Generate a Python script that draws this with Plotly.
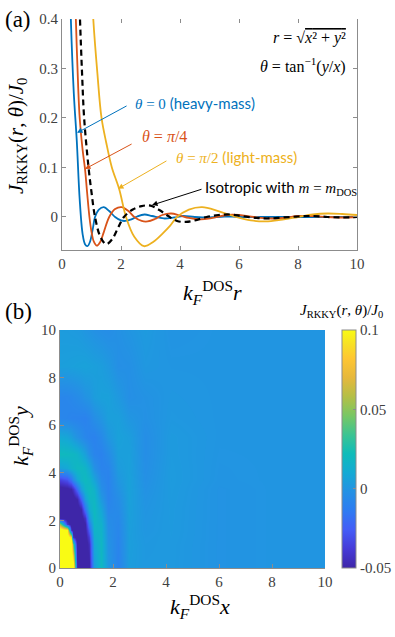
import plotly.graph_objects as go

# ---------------- Panel (a): J_RKKY(r, theta)/J0 vs kF r ----------------
r_heavy = [0.25, 0.3, 0.4, 0.5, 0.6, 0.7, 0.78, 0.86, 0.95, 1.05, 1.12, 1.25, 1.42, 1.6, 1.8, 2.0, 2.15,
           2.35, 2.55, 2.8, 3.05, 3.45, 3.8, 4.1, 4.5, 5.0, 5.5, 6.0, 7.0, 8.0, 9.0, 10.0]
J_heavy = [0.52, 0.40, 0.25, 0.155, 0.035, -0.035, -0.055, -0.059, -0.05, -0.022, 0.0, 0.015, 0.02, 0.012,
           0.0, -0.007, -0.008, -0.005, 0.001, 0.005, 0.002, -0.003, -0.001, 0.002, 0.0, -0.001, 0.001, 0.0,
           0.0, 0.0, 0.0, 0.0]

r_mid = [0.42, 0.47, 0.55, 0.6, 0.7, 0.78, 0.85, 0.93, 1.0, 1.08, 1.18, 1.3, 1.42, 1.6, 1.8, 2.02, 2.25,
         2.45, 2.7, 2.9, 3.15, 3.4, 3.7, 4.0, 4.3, 4.7, 5.1, 5.6, 6.0, 6.5, 7.0, 7.5, 8.0, 8.5, 9.0, 9.5, 10.0]
J_mid = [0.52, 0.40, 0.26, 0.20, 0.135, 0.097, 0.05, 0.0, -0.03, -0.05, -0.058, -0.05, -0.03, 0.0, 0.016,
         0.02, 0.012, 0.0, -0.008, -0.009, -0.004, 0.004, 0.007, 0.003, -0.002, -0.005, -0.002, 0.004, 0.004,
         0.0, -0.003, -0.002, 0.002, 0.002, 0.0, -0.001, 0.0]

r_light = [0.98, 1.06, 1.2, 1.34, 1.5, 1.69, 1.94, 2.17, 2.45, 2.78, 3.1, 3.4, 3.66, 3.9, 4.3, 4.75, 5.3,
           5.9, 6.4, 6.9, 7.4, 8.0, 8.5, 9.0, 9.5, 10.0]
J_light = [0.50, 0.40, 0.29, 0.20, 0.15, 0.10, 0.056, 0.0, -0.04, -0.059, -0.05, -0.034, -0.018, 0.0, 0.015,
           0.02, 0.012, 0.0, -0.007, -0.009, -0.006, 0.0, 0.005, 0.007, 0.006, 0.004]

r_iso = [0.55, 0.61, 0.68, 0.75, 0.9, 1.0, 1.12, 1.3, 1.5, 1.7, 1.9, 2.1, 2.4, 2.7, 3.0, 3.3, 3.6, 3.9,
         4.2, 4.5, 4.9, 5.3, 5.7, 6.1, 6.6, 7.0, 7.5, 8.0, 8.5, 9.0, 9.5, 10.0]
J_iso = [0.52, 0.40, 0.29, 0.20, 0.10, 0.05, 0.0, -0.04, -0.055, -0.045, -0.022, 0.0, 0.015, 0.022, 0.023,
         0.014, 0.002, -0.008, -0.01, -0.007, 0.0, 0.004, 0.005, 0.002, -0.002, -0.003, -0.001, 0.001, 0.002,
         0.0, -0.001, 0.0]

tick_a_x = [0, 2, 4, 6, 8, 10]
tick_a_y = [0, 0.1, 0.2, 0.3, 0.4]
tick_a_y_text = ["0", "0.1", "0.2", "0.3", "0.4"]

# ---------------- Panel (b): heatmap J(x, y)/J0 ----------------
hx = [0, 0.25, 0.4, 0.5, 0.65, 0.8, 0.95, 1.1, 1.3, 1.55, 1.8, 2.2, 2.6, 3.2, 4.2, 6, 8, 10]
hy = [0, 1.0, 1.3, 1.6, 1.85, 2.1, 2.5, 2.9, 3.3, 3.7, 4.2, 4.8, 5.5, 6.3, 7.2, 8.5, 10]
hz = [
    [0.12, 0.12, 0.12, 0.12, -0.046, -0.059, -0.059, -0.052, 0.003, 0.0187, 0.0013, -0.0096, 0.0036, 0.0017, 0.0018, -0.001, 0, 0],
    [0.12, 0.12, 0.12, 0.039, -0.057, -0.06, -0.058, -0.0445, 0.0094, 0.018, -0.001, -0.0089, 0.0044, 0.0014, 0.0019, -0.001, 0, 0],
    [0.12, 0.12, 0.083, -0.042, -0.059, -0.06, -0.056, -0.037, 0.013, 0.017, -0.002, -0.0084, 0.0041, 0.0011, 0.0021, -0.001, 0, 0],
    [0.12, 0.1, -0.04, -0.057, -0.059, -0.06, -0.054, -0.024, 0.016, 0.016, -0.003, -0.0078, 0.0044, 0.0006, 0.0022, -0.001, 0, 0],
    [0.05, -0.04, -0.0565, -0.059, -0.06, -0.058, -0.05, -0.012, 0.017, 0.015, -0.004, -0.0072, 0.0046, 0.0005, 0.0022, -0.001, 0, 0],
    [-0.052, -0.056, -0.059, -0.059, -0.06, -0.056, -0.042, 0.0, 0.019, 0.012, -0.005, -0.0065, 0.0049, 0.0002, 0.0023, -0.001, 0, 0],
    [-0.059, -0.059, -0.06, -0.06, -0.057, -0.049, -0.016, 0.011, 0.0196, 0.008, -0.0074, -0.0053, 0.0052, -0.0002, 0.0023, -0.001, 0, 0],
    [-0.06, -0.06, -0.058, -0.056, -0.049, -0.024, 0.005, 0.017, 0.018, 0.002, -0.009, -0.004, 0.0055, -0.0008, 0.0025, -0.001, 0, 0],
    [-0.055, -0.053, -0.05, -0.042, -0.02, 0.004, 0.016, 0.02, 0.015, -0.003, -0.0094, -0.0016, 0.0059, -0.0016, 0.0027, -0.001, 0, 0],
    [-0.036, -0.03, -0.018, -0.007, 0.008, 0.016, 0.02, 0.017, 0.0075, -0.006, -0.0097, 0.0006, 0.0057, -0.0024, 0.0029, -0.0005, 0, 0],
    [0.006, 0.009, 0.0145, 0.016, 0.019, 0.019, 0.0165, 0.01, -0.002, -0.0092, -0.0087, 0.003, 0.0052, -0.0031, 0.0028, -0.0004, 0, 0],
    [0.02, 0.0195, 0.0185, 0.018, 0.016, 0.011, 0.0054, -0.0025, -0.0084, -0.01, -0.005, 0.0046, 0.005, -0.0036, 0.0025, -0.0002, 0, 0],
    [0.0095, 0.0078, 0.0049, 0.0023, -0.0013, -0.0044, -0.0075, -0.0092, -0.01, -0.0061, 0.0007, 0.0058, 0.0041, -0.0037, 0.0024, 0, 0, 0],
    [-0.0077, -0.0084, -0.009, -0.0092, -0.0094, -0.0097, -0.01, -0.0078, -0.0035, 0.0001, 0.0047, 0.0049, 0.0004, -0.002, 0.0013, 0, 0, 0],
    [-0.008, -0.0076, -0.0069, -0.0062, -0.005, -0.0035, -0.0011, 0.0001, 0.0036, 0.0054, 0.0055, 0.0017, -0.003, -0.0015, 0.0008, 0, 0, 0],
    [0.0045, 0.0047, 0.005, 0.0051, 0.0054, 0.0057, 0.006, 0.0055, 0.0048, 0.0039, 0.0016, -0.003, -0.0025, 0.0012, 0.0001, 0, 0, 0],
    [0.003, 0.0029, 0.0026, 0.0025, 0.0022, 0.0015, 0.0003, -0.0006, -0.002, -0.0033, -0.004, -0.002, 0.0, 0.0024, -0.0008, 0, 0, 0],
]
tick_b = [0, 2, 4, 6, 8, 10]
cbar_ticks = [-0.05, 0, 0.05, 0.1]
cbar_labels = ["-0.05", "0", "0.05", "0.1"]

BLUE = "#0072BD"
RED = "#D95319"
ORANGE = "#EDB120"
SERIF = "Liberation Serif"
SANS = "Lato"
GRAY = "#404040"
AXC = "#8c8c8c"

parula = [
    [0.00, "rgb(62,38,168)"], [0.08, "rgb(70,58,215)"], [0.16, "rgb(68,92,247)"],
    [0.24, "rgb(46,123,242)"], [0.32, "rgb(36,145,228)"], [0.40, "rgb(20,170,212)"],
    [0.48, "rgb(14,188,185)"], [0.56, "rgb(60,196,146)"], [0.64, "rgb(120,199,100)"],
    [0.72, "rgb(180,191,70)"], [0.80, "rgb(230,184,60)"], [0.88, "rgb(254,198,50)"],
    [0.94, "rgb(248,224,37)"], [1.00, "rgb(249,251,20)"],
]

W, H = 395, 637
def px(x):
    return x / W
def py(y):
    return 1 - y / H

fig = go.Figure()
fig.add_trace(go.Scatter(x=r_heavy, y=J_heavy, mode="lines", line=dict(color=BLUE, width=1.8, shape="spline"),
                         showlegend=False, xaxis="x", yaxis="y"))
fig.add_trace(go.Scatter(x=r_mid, y=J_mid, mode="lines", line=dict(color=RED, width=1.8, shape="spline"),
                         showlegend=False, xaxis="x", yaxis="y"))
fig.add_trace(go.Scatter(x=r_light, y=J_light, mode="lines", line=dict(color=ORANGE, width=1.8, shape="spline"),
                         showlegend=False, xaxis="x", yaxis="y"))
fig.add_trace(go.Scatter(x=r_iso, y=J_iso, mode="lines",
                         line=dict(color="black", width=2.2, shape="spline", dash="6px,4px"),
                         showlegend=False, xaxis="x", yaxis="y"))
# invisible trace to carry the top tick axis
fig.add_trace(go.Scatter(x=[None], y=[None], mode="lines", showlegend=False, xaxis="x3", yaxis="y",
                         hoverinfo="skip"))

fig.add_trace(go.Heatmap(
    x=hx, y=hy, z=hz, zmin=-0.05, zmax=0.1, zsmooth="best", colorscale=parula,
    xaxis="x2", yaxis="y2",
    colorbar=dict(x=px(342), xanchor="left", xpad=0, ypad=0, y=py(568), yanchor="bottom",
                  thickness=14, thicknessmode="pixels", len=238, lenmode="pixels",
                  tickvals=cbar_ticks, ticktext=cbar_labels, ticks="inside", ticklen=3,
                  tickcolor=AXC, outlinewidth=1, outlinecolor=AXC,
                  tickfont=dict(family=SERIF, size=15, color=GRAY)),
))

axis_common = dict(showgrid=False, zeroline=False, ticks="inside", ticklen=4, tickcolor=AXC,
                   linecolor=AXC, linewidth=1, tickfont=dict(family=SERIF, size=15, color=GRAY))

fig.update_layout(
    width=W, height=H, margin=dict(l=0, r=0, t=0, b=0, autoexpand=False),
    paper_bgcolor="white", plot_bgcolor="white",
    font=dict(family=SERIF),
    xaxis=dict(domain=[px(62), px(357)], range=[0, 10], tickvals=tick_a_x, showline=True,
               anchor="y", automargin=False, **axis_common),
    xaxis3=dict(domain=[px(62), px(357)], range=[0, 10], tickvals=tick_a_x, overlaying="x", side="top",
                showline=False, showticklabels=False, anchor="y", showgrid=False, zeroline=False,
                ticks="inside", ticklen=4, tickcolor=AXC, automargin=False),
    yaxis=dict(domain=[py(250), py(19)], range=[-0.0667, 0.4], tickvals=tick_a_y,
               ticktext=tick_a_y_text, showline=True, mirror="ticks",
               anchor="x", automargin=False, **axis_common),
    xaxis2=dict(domain=[px(60), px(325)], range=[0, 10], tickvals=tick_b, showline=True,
                anchor="y2", automargin=False, **axis_common),
    yaxis2=dict(domain=[py(568), py(330)], range=[0, 10], tickvals=tick_b, showline=True,
                anchor="x2", automargin=False, **axis_common),
)

ann = []
def text(x, y, t, size=15, family=SERIF, color="black", xanchor="center", textangle=0,
         xref="paper", yref="paper"):
    ann.append(dict(x=x, y=y, xref=xref, yref=yref, text=t, showarrow=False, xanchor=xanchor,
                    yanchor="middle", textangle=textangle, font=dict(family=family, size=size, color=color)))

def arrow(x0, y0, x1, y1, color):
    ann.append(dict(x=x1, y=y1, ax=x0, ay=y0, xref="x", yref="y", axref="x", ayref="y", text="",
                    showarrow=True, arrowhead=2, arrowsize=1.1, arrowwidth=1, arrowcolor=color))

text(px(18), py(20), "(a)", size=23)
text(px(18), py(311), "(b)", size=23)
text(px(17), py(136), "<i>J</i><sub>RKKY</sub>(<i>r</i>, <i>θ</i>)/<i>J</i><sub>0</sub>", size=21, textangle=-90)
text(px(212), py(292), "<i>k</i><sub><i>F</i></sub><sup>DOS</sup><i>r</i>", size=22)
text(px(20), py(436), "<i>k</i><sub><i>F</i></sub><sup>DOS</sup><i>y</i>", size=22, textangle=-90)
text(px(200), py(606), "<i>k</i><sub><i>F</i></sub><sup>DOS</sup><i>x</i>", size=22)
text(px(341), py(311), "<i>J</i><sub>RKKY</sub>(<i>r</i>, <i>θ</i>)/<i>J</i><sub>0</sub>", size=15)

# formula box (top right)
text(9.69, 0.362, "<i>r</i> = √<span style='text-decoration:overline'><i>x</i>² + <i>y</i>²</span>",
     size=16, xanchor="right", xref="x", yref="y")
text(9.69, 0.307, "<i>θ</i> = tan<sup>−1</sup>(<i>y</i>/<i>x</i>)", size=16, xanchor="right", xref="x", yref="y")

# curve labels
text(2.42, 0.230, "<span style='font-family:Liberation Serif'><i>θ</i> = 0</span> (heavy-mass)", size=15,
     family=SANS, color=BLUE, xanchor="left", xref="x", yref="y")
text(2.66, 0.162, "<i>θ</i> = <i>π</i>/4", size=16, color=RED, xanchor="left", xref="x", yref="y")
text(3.81, 0.121, "<span style='font-family:Liberation Serif'><i>θ</i> = <i>π</i>/2</span> (light-mass)", size=15,
     family=SANS, color=ORANGE, xanchor="left", xref="x", yref="y")
text(4.79, 0.0586, "Isotropic with <span style='font-family:Liberation Serif'><i>m</i> = <i>m</i><sub>DOS</sub></span>",
     size=15, family=SANS, color="black", xanchor="left", xref="x", yref="y")

arrow(2.24, 0.226, 0.51, 0.170, BLUE)
arrow(2.41, 0.149, 0.78, 0.097, RED)
arrow(3.59, 0.115, 1.90, 0.057, ORANGE)
arrow(4.78, 0.057, 3.05, 0.024, "black")

fig.update_layout(annotations=ann)
fig.write_html("out.html", config={"displayModeBar": False},
               post_script="document.body.style.margin='0';document.body.style.overflow='hidden';")
